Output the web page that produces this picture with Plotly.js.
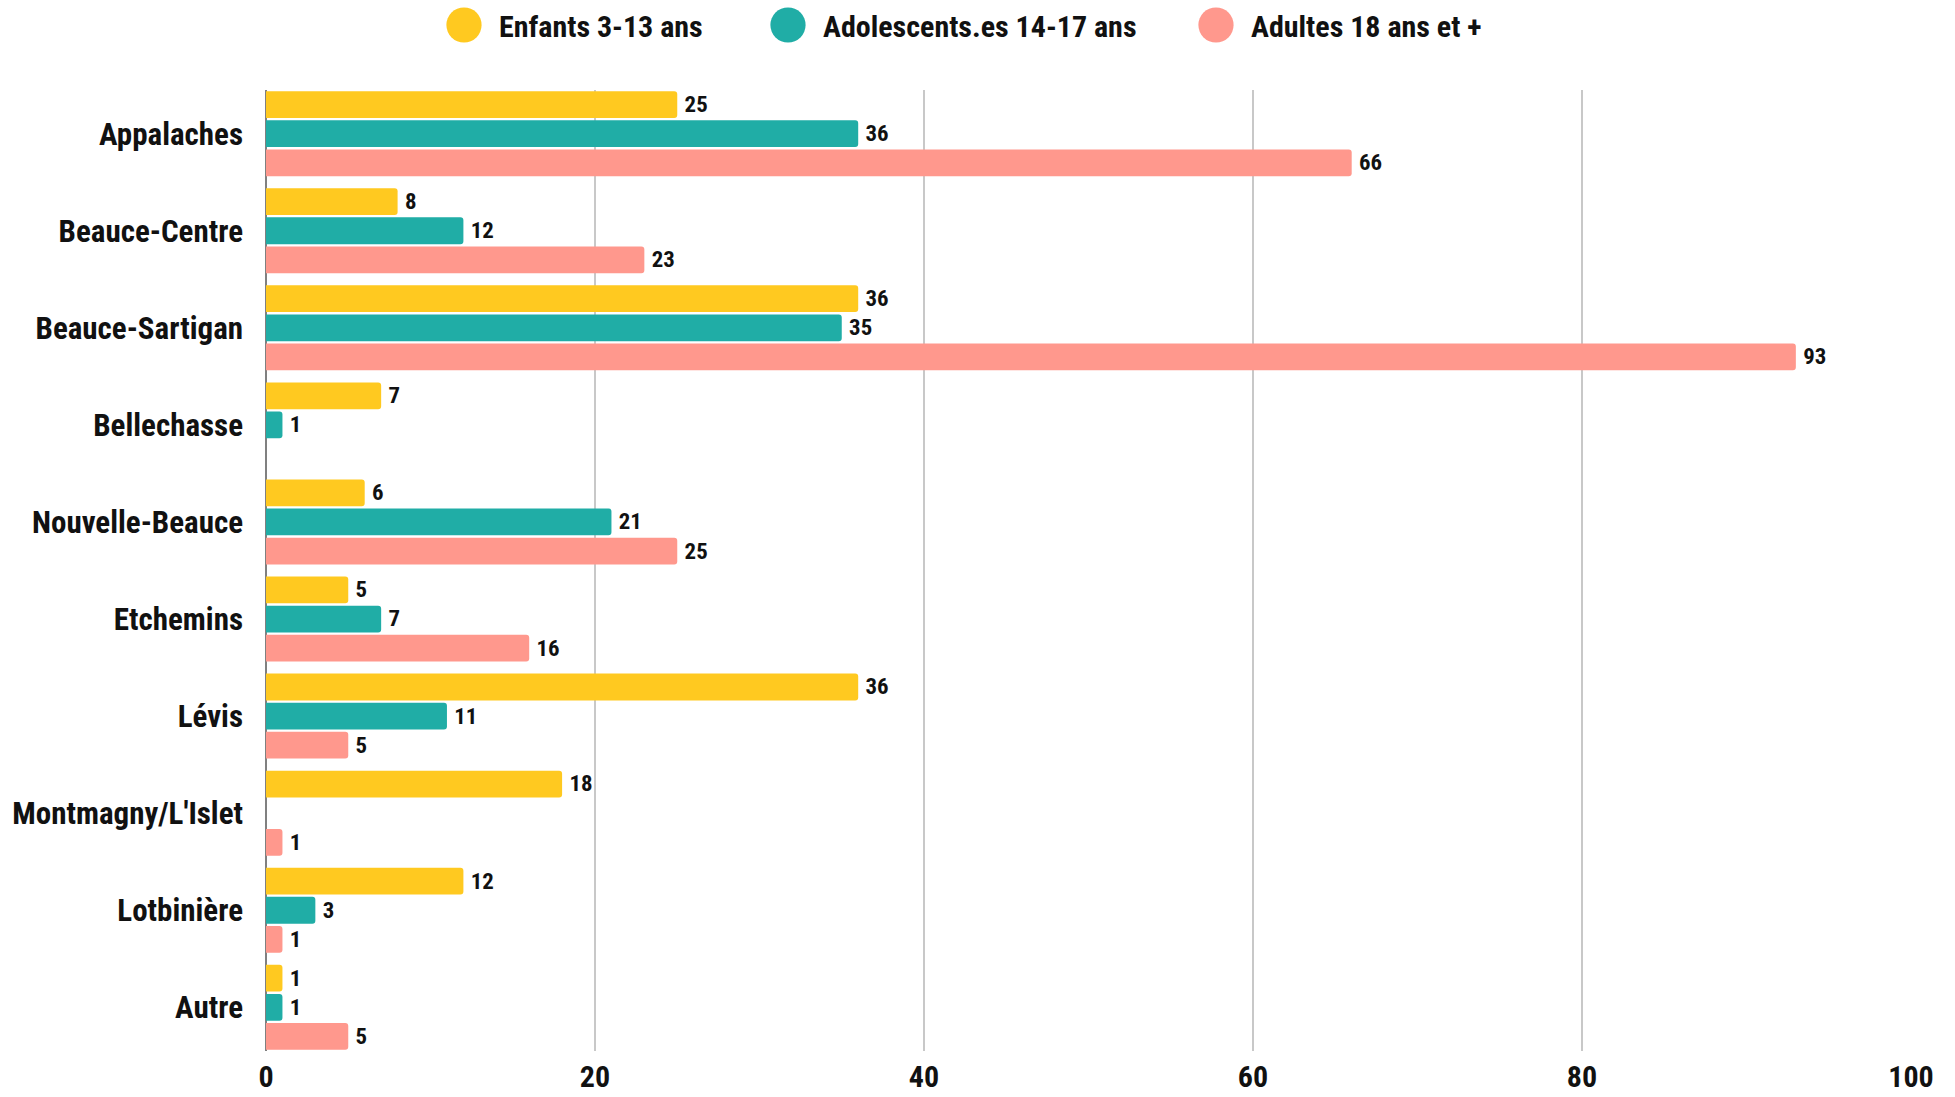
<!DOCTYPE html>
<html>
<head>
<meta charset="utf-8">
<script src="https://cdn.plot.ly/plotly-3.0.1.min.js"></script>
<style>html,body{margin:0;padding:0;background:#fff;}#chart{width:1955px;height:1097px;}</style>
</head>
<body>
<div id="chart"></div>
<script>
const categories = ["Appalaches", "Beauce-Centre", "Beauce-Sartigan", "Bellechasse", "Nouvelle-Beauce", "Etchemins", "Lévis", "Montmagny/L'Islet", "Lotbinière", "Autre"];
const enfants = [25, 8, 36, 7, 6, 5, 36, 18, 12, 1];
const adolescents = [36, 12, 35, 1, 21, 7, 11, null, 3, 1];
const adultes = [66, 23, 93, null, 25, 16, 5, 1, 1, 5];
const seriesNames = ["Enfants 3-13 ans", "Adolescents.es 14-17 ans", "Adultes 18 ans et +"];
const colors = ["#FFC920", "#20ADA6", "#FF988D"];
const xTicks = [0, 20, 40, 60, 80, 100];

const FONT = "'Roboto Condensed', 'Roboto', sans-serif";
const legendIds = ['legend', 'legend2', 'legend3'];
const legendCenters = [464, 788, 1216]; // circle centres, px

function barTrace(vals, i) {
  return {
    type: 'bar', orientation: 'h', name: seriesNames[i],
    y: categories, x: vals,
    marker: {color: colors[i], line: {width: 0}, cornerradius: 3},
    text: vals.map(v => v == null ? '' : '\u2009' + String(v)),
    textposition: 'outside', cliponaxis: false,
    textfont: {family: FONT, size: 23, color: '#111', weight: 'bold'},
    hoverinfo: 'x+y', showlegend: false
  };
}
function legendTrace(i) {
  return {
    type: 'scatter', mode: 'markers', name: seriesNames[i], legend: legendIds[i],
    x: [null], y: [null],
    marker: {color: colors[i], size: 16, symbol: 'circle'},
    showlegend: true, hoverinfo: 'skip'
  };
}
function legendLayout(i) {
  return {
    orientation: 'h', xref: 'container', yref: 'container',
    x: (legendCenters[i] - 35) / 1955, xanchor: 'left',
    y: 1 - 25 / 1097, yanchor: 'middle',
    itemwidth: 60, borderwidth: 0, bgcolor: 'rgba(0,0,0,0)',
    font: {family: FONT, size: 30, color: '#111', weight: 'bold'},
    itemclick: false, itemdoubleclick: false
  };
}

const data = [
  barTrace(enfants, 0), barTrace(adolescents, 1), barTrace(adultes, 2),
  legendTrace(0), legendTrace(1), legendTrace(2)
];

const layout = {
  width: 1955, height: 1097,
  margin: {l: 266, r: 44, t: 90, b: 46, autoexpand: false},
  paper_bgcolor: '#fff', plot_bgcolor: '#fff',
  barmode: 'group', bargap: 0.1, bargroupgap: 0.08,
  font: {family: FONT, color: '#111', weight: 'bold'},
  xaxis: {
    range: [0, 100], tickvals: xTicks, ticktext: xTicks.map(String),
    showgrid: true, gridcolor: '#c8c8c8', gridwidth: 1.5,
    zeroline: true, zerolinecolor: '#808080', zerolinewidth: 1.5,
    ticks: '', ticklabelstandoff: 5,
    tickfont: {family: FONT, size: 30, color: '#111', weight: 'bold'},
    fixedrange: true
  },
  yaxis: {
    type: 'category', categoryorder: 'array', categoryarray: categories,
    range: [9.45, -0.45],
    showgrid: false, zeroline: false, ticks: '', ticklabelstandoff: 22,
    tickfont: {family: FONT, size: 31, color: '#111', weight: 'bold'},
    fixedrange: true
  },
  legend: legendLayout(0),
  legend2: legendLayout(1),
  legend3: legendLayout(2),
  showlegend: true
};

Plotly.newPlot('chart', data, layout, {staticPlot: true}).then(function () {
  document.querySelectorAll('#chart .legendpoints path').forEach(function (p) {
    const t = p.getAttribute('transform') || '';
    p.setAttribute('transform', t + ' scale(2.2)');
  });
});
</script>
</body>
</html>
